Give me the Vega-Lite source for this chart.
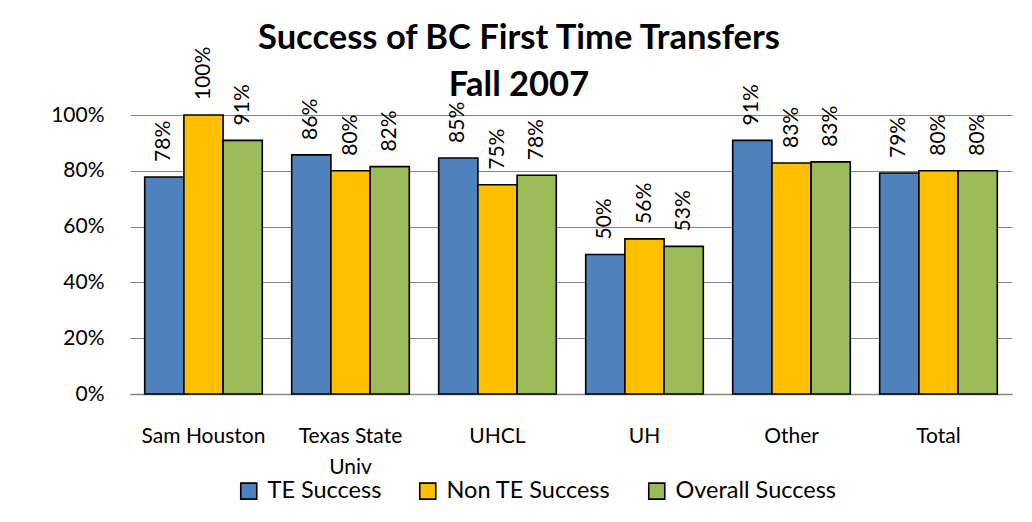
{
  "$schema": "https://vega.github.io/schema/vega-lite/v6.json",
  "width": 882,
  "height": 279,
  "autosize": {"type": "none"},
  "padding": {"left": 130, "top": 115, "right": 20, "bottom": 128},
  "background": "white",
  "title": {
    "text": ["Success of BC First Time Transfers", "Fall 2007"],
    "font": "Lato",
    "fontWeight": "bold",
    "fontSize": 34.5,
    "lineHeight": 47,
    "color": "black",
    "anchor": "middle",
    "dx": -52,
    "dy": 71,
    "offset": 14
  },
  "data": {
    "values": [
      {"school": "Sam Houston", "series": "TE Success", "value": 0.778},
      {"school": "Sam Houston", "series": "Non TE Success", "value": 1.0},
      {"school": "Sam Houston", "series": "Overall Success", "value": 0.909},
      {"school": "Texas State Univ", "series": "TE Success", "value": 0.857},
      {"school": "Texas State Univ", "series": "Non TE Success", "value": 0.8},
      {"school": "Texas State Univ", "series": "Overall Success", "value": 0.815},
      {"school": "UHCL", "series": "TE Success", "value": 0.846},
      {"school": "UHCL", "series": "Non TE Success", "value": 0.75},
      {"school": "UHCL", "series": "Overall Success", "value": 0.784},
      {"school": "UH", "series": "TE Success", "value": 0.5},
      {"school": "UH", "series": "Non TE Success", "value": 0.556},
      {"school": "UH", "series": "Overall Success", "value": 0.529},
      {"school": "Other", "series": "TE Success", "value": 0.909},
      {"school": "Other", "series": "Non TE Success", "value": 0.828},
      {"school": "Other", "series": "Overall Success", "value": 0.832},
      {"school": "Total", "series": "TE Success", "value": 0.792},
      {"school": "Total", "series": "Non TE Success", "value": 0.8},
      {"school": "Total", "series": "Overall Success", "value": 0.8}
    ]
  },
  "encoding": {
    "x": {
      "field": "school",
      "type": "nominal",
      "sort": ["Sam Houston", "Texas State Univ", "UHCL", "UH", "Other", "Total"],
      "scale": {"paddingInner": 0.2, "paddingOuter": 0.1},
      "axis": {
        "title": null,
        "labelAngle": 0,
        "labelExpr": "datum.label == 'Texas State Univ' ? ['Texas State', 'Univ'] : datum.label",
        "labelLineHeight": 31,
        "labelPadding": 31,
        "ticks": false,
        "domain": true,
        "domainColor": "#868686",
        "domainWidth": 1.5
      }
    },
    "xOffset": {
      "field": "series",
      "sort": ["TE Success", "Non TE Success", "Overall Success"]
    },
    "y": {
      "field": "value",
      "type": "quantitative",
      "scale": {"domain": [0, 1]},
      "axis": {
        "title": null,
        "format": ".0%",
        "values": [0, 0.2, 0.4, 0.6, 0.8, 1.0],
        "grid": true,
        "gridColor": "#868686",
        "gridWidth": 1.2,
        "domain": false,
        "ticks": false,
        "labelPadding": 26
      }
    }
  },
  "layer": [
    {
      "mark": {"type": "bar", "stroke": "black", "strokeWidth": 1.6},
      "encoding": {
        "color": {
          "field": "series",
          "type": "nominal",
          "sort": ["TE Success", "Non TE Success", "Overall Success"],
          "scale": {
            "domain": ["TE Success", "Non TE Success", "Overall Success"],
            "range": ["#4F81BD", "#FFC000", "#9BBB59"]
          },
          "legend": {
            "title": null,
            "orient": "none",
            "direction": "horizontal",
            "legendX": 107,
            "legendY": 364,
            "symbolType": "square",
            "symbolSize": 256,
            "symbolStrokeColor": "black",
            "symbolStrokeWidth": 1.6,
            "symbolOpacity": 1,
            "labelOffset": 7,
            "labelFontSize": 23.5,
            "labelLimit": 400,
            "columnPadding": 34,
            "padding": 0
          }
        }
      }
    },
    {
      "mark": {
        "type": "text",
        "angle": 270,
        "align": "left",
        "baseline": "middle",
        "dx": 15,
        "fontSize": 21,
        "color": "black"
      },
      "encoding": {
        "text": {"field": "value", "type": "quantitative", "format": ".0%"}
      }
    }
  ],
  "config": {
    "font": "Lato",
    "view": {"stroke": null},
    "axis": {"labelFont": "Lato", "labelFontSize": 21, "labelColor": "black"},
    "legend": {"labelFont": "Lato", "labelFontSize": 23.5, "labelColor": "black", "labelLimit": 400}
  }
}
